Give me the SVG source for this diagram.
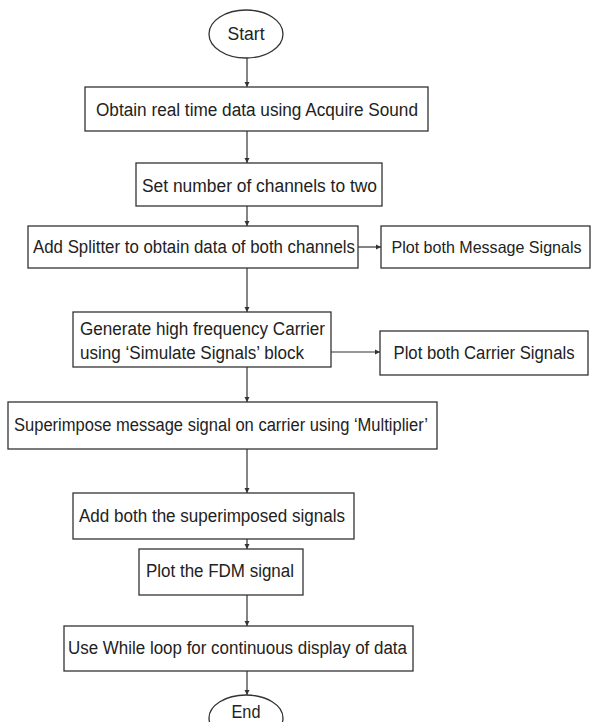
<svg xmlns="http://www.w3.org/2000/svg" width="593" height="722" viewBox="0 0 593 722">
<defs>
<style>
.n{fill:#fff;stroke:#333;stroke-width:1.3}
.t{font-family:"Liberation Sans",Arial,sans-serif;font-size:18px;fill:#222;text-anchor:middle;dominant-baseline:central}
.tl{font-family:"Liberation Sans",Arial,sans-serif;font-size:18px;fill:#222;dominant-baseline:central}
.c{stroke:#333;stroke-width:1.2;fill:none;marker-end:url(#ah)}
</style>
<marker id="ah" markerWidth="6" markerHeight="6" refX="5" refY="3" orient="auto" markerUnits="userSpaceOnUse">
<path d="M0,0.5 L5,3 L0,5.5 Z" fill="#333"/>
</marker>
</defs>
<rect width="593" height="722" fill="#fff"/>
<g id="connectors">
<line class="c" x1="247" y1="58" x2="247" y2="87"/>
<line class="c" x1="247" y1="131" x2="247" y2="163"/>
<line class="c" x1="247" y1="206" x2="247" y2="226"/>
<line class="c" x1="358" y1="247" x2="381" y2="247"/>
<line class="c" x1="247" y1="268" x2="247" y2="312"/>
<line class="c" x1="331" y1="352" x2="380" y2="352"/>
<line class="c" x1="247" y1="367" x2="247" y2="402"/>
<line class="c" x1="247" y1="449" x2="247" y2="493"/>
<line class="c" x1="247" y1="539" x2="247" y2="549"/>
<line class="c" x1="247" y1="595" x2="247" y2="626"/>
<line class="c" x1="247" y1="671" x2="247" y2="695"/>
</g>
<g id="start">
<ellipse class="n" cx="246" cy="34" rx="37" ry="24"/>
<text class="t" x="246" y="34" textLength="37" lengthAdjust="spacingAndGlyphs">Start</text>
</g>
<g id="acquire">
<rect class="n" x="85" y="87" width="343" height="44"/>
<text class="t" x="257" y="110" textLength="322" lengthAdjust="spacingAndGlyphs">Obtain real time data using Acquire Sound</text>
</g>
<g id="channels">
<rect class="n" x="136" y="163" width="246" height="43"/>
<text class="t" x="259.5" y="186" textLength="235" lengthAdjust="spacingAndGlyphs">Set number of channels to two</text>
</g>
<g id="splitter">
<rect class="n" x="28" y="226" width="330" height="42"/>
<text class="t" x="194" y="247" textLength="322" lengthAdjust="spacingAndGlyphs">Add Splitter to obtain data of both channels</text>
</g>
<g id="plot-message">
<rect class="n" x="381" y="226" width="209" height="42"/>
<text class="t" x="486.5" y="247" textLength="190" lengthAdjust="spacingAndGlyphs" style="font-size:16.5px">Plot both Message Signals</text>
</g>
<g id="carrier">
<rect class="n" x="73" y="312" width="258" height="55"/>
<text class="tl" x="80" y="329" textLength="245" lengthAdjust="spacingAndGlyphs">Generate high frequency Carrier</text>
<text class="tl" x="80" y="353" textLength="224" lengthAdjust="spacingAndGlyphs">using ‘Simulate Signals’ block</text>
</g>
<g id="plot-carrier">
<rect class="n" x="380" y="331" width="208" height="44"/>
<text class="t" x="484" y="353" textLength="181" lengthAdjust="spacingAndGlyphs">Plot both Carrier Signals</text>
</g>
<g id="multiplier">
<rect class="n" x="8" y="402" width="429" height="47"/>
<text class="t" x="221" y="425" textLength="414" lengthAdjust="spacingAndGlyphs">Superimpose message signal on carrier using ‘Multiplier’</text>
</g>
<g id="add">
<rect class="n" x="73" y="493" width="281" height="46"/>
<text class="t" x="212" y="516" textLength="266" lengthAdjust="spacingAndGlyphs">Add both the superimposed signals</text>
</g>
<g id="plot-fdm">
<rect class="n" x="139" y="549" width="164" height="46"/>
<text class="t" x="220" y="571" textLength="148" lengthAdjust="spacingAndGlyphs">Plot the FDM signal</text>
</g>
<g id="while">
<rect class="n" x="64" y="626" width="349" height="45"/>
<text class="t" x="237.5" y="648" textLength="339" lengthAdjust="spacingAndGlyphs">Use While loop for continuous display of data</text>
</g>
<g id="end">
<ellipse class="n" cx="246" cy="718" rx="37" ry="23"/>
<text class="t" x="246" y="712" textLength="29" lengthAdjust="spacingAndGlyphs">End</text>
</g>
</svg>
